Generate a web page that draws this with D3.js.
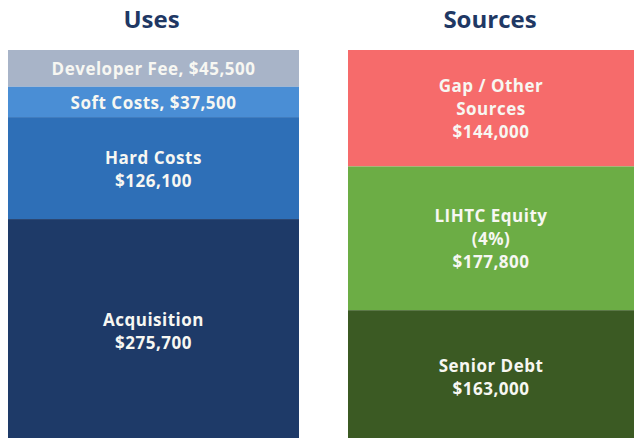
<!DOCTYPE html>
<html>
<head>
<meta charset="utf-8">
<script src="https://cdn.jsdelivr.net/npm/d3@7"></script>
<style>
  html, body { margin: 0; padding: 0; background: #ffffff; }
  svg { display: block; }
</style>
</head>
<body>
<div id="chart"></div>
<script>
// Uses of funds (top to bottom)
const useNames = ["Developer Fee", "Soft Costs", "Hard Costs", "Acquisition"];
const useValues = [45500, 37500, 126100, 275700];
const useColors = ["#a8b4c8", "#4a8ed5", "#2e6fb7", "#1e3a68"];
const useLabelLines = [["Developer Fee, $45,500"], ["Soft Costs, $37,500"], ["Hard Costs", "$126,100"], ["Acquisition", "$275,700"]];

// Sources of funds (top to bottom)
const sourceNames = ["Gap / Other Sources", "LIHTC Equity (4%)", "Senior Debt"];
const sourceValues = [144000, 177800, 163000];
const sourceColors = ["#f66b6b", "#6cad45", "#3b5a23"];
const sourceLabelLines = [["Gap / Other", "Sources", "$144,000"], ["LIHTC Equity", "(4%)", "$177,800"], ["Senior Debt", "$163,000"]];

const columns = ["Uses", "Sources"];

const width = 634, height = 438;
const svg = d3.select("#chart").append("svg")
  .attr("width", width).attr("height", height);

const total = d3.max([d3.sum(useValues), d3.sum(sourceValues)]);
const y = d3.scaleLinear().domain([0, total]).range([50, 442]);

// Column bands: x ranges of each stacked bar
const x = d3.scaleOrdinal().domain(columns).range([[8, 299], [348, 634]]);

const font = "'Open Sans', 'DejaVu Sans', sans-serif";

function drawStack(col, names, values, colors, lines) {
  const [x0, x1] = x(col);
  const cum = d3.cumsum(values);
  const segs = values.map((v, i) => ({
    name: names[i], v, color: colors[i], lines: lines[i],
    start: cum[i] - v, end: cum[i]
  }));
  const g = svg.append("g");
  g.selectAll("rect").data(segs).join("rect")
    .attr("x", x0).attr("width", x1 - x0)
    .attr("y", d => y(d.start))
    .attr("height", d => y(d.end) - y(d.start))
    .attr("fill", d => d.color);

  const lh = 23;
  segs.forEach(d => {
    const cy = (y(d.start) + y(d.end)) / 2;
    const n = d.lines.length;
    d.lines.forEach((t, k) => {
      g.append("text")
        .attr("x", (x0 + x1) / 2)
        .attr("y", cy + (k - (n - 1) / 2) * lh + 1)
        .attr("dy", "0.35em")
        .attr("text-anchor", "middle")
        .attr("fill", "#f7f7f2")
        .attr("font-family", font)
        .attr("font-weight", 700)
        .attr("font-size", 17)
        .attr("letter-spacing", 0.5)
        .text(t);
    });
  });

  svg.append("text")
    .attr("x", (x0 + x1) / 2 + (col === "Uses" ? -2 : -1))
    .attr("y", 20)
    .attr("dy", "0.35em")
    .attr("text-anchor", "middle")
    .attr("fill", "#1f3864")
    .attr("font-family", font)
    .attr("font-weight", 700)
    .attr("font-size", 24)
    .text(col);
}

drawStack("Uses", useNames, useValues, useColors, useLabelLines);
drawStack("Sources", sourceNames, sourceValues, sourceColors, sourceLabelLines);
</script>
</body>
</html>
